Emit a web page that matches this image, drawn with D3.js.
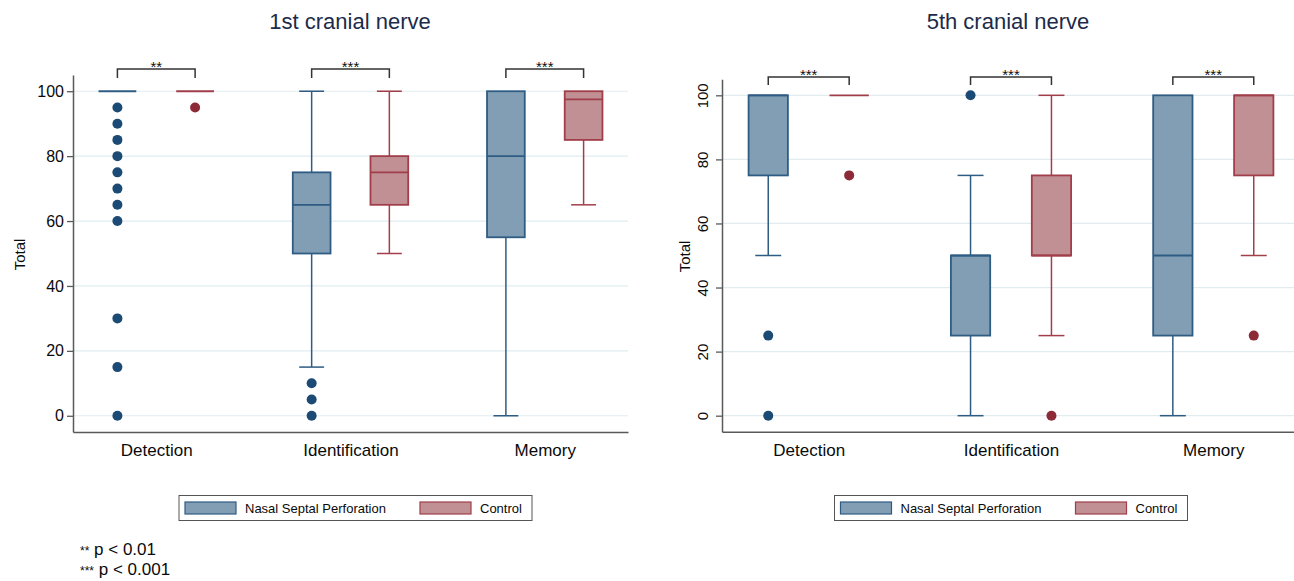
<!DOCTYPE html>
<html>
<head>
<meta charset="utf-8">
<script src="https://cdn.jsdelivr.net/npm/d3@7"></script>
<style>
  html, body { margin: 0; padding: 0; background: #fff; }
  svg { display: block; font-family: "Liberation Sans", Arial, Helvetica, sans-serif; }
</style>
</head>
<body>
<svg id="chart" width="1294" height="581"></svg>
<script>
// ---------------- DATA ----------------
const categories = ["Detection", "Identification", "Memory"];
const groups = ["Nasal Septal Perforation", "Control"];
const yTicks = [0, 20, 40, 60, 80, 100];

// box stats per category: [lower whisker, q1, median, q3, upper whisker]
const nerve1Title = "1st cranial nerve";
const nerve1NspStats = [[100, 100, 100, 100, 100], [15, 50, 65, 75, 100], [0, 55, 80, 100, 100]];
const nerve1NspOutliers = [[95, 90, 85, 80, 75, 70, 65, 60, 30, 15, 0], [10, 5, 0], []];
const nerve1CtlStats = [[100, 100, 100, 100, 100], [50, 65, 75, 80, 100], [65, 85, 97.5, 100, 100]];
const nerve1CtlOutliers = [[95], [], []];
const nerve1Sig = ["**", "***", "***"];

const nerve5Title = "5th cranial nerve";
const nerve5NspStats = [[50, 75, 100, 100, 100], [0, 25, 50, 50, 75], [0, 25, 50, 100, 100]];
const nerve5NspOutliers = [[25, 0], [100], []];
const nerve5CtlStats = [[100, 100, 100, 100, 100], [25, 50, 50, 75, 100], [50, 75, 100, 100, 100]];
const nerve5CtlOutliers = [[75], [0], [25]];
const nerve5Sig = ["***", "***", "***"];

const footnotes = [["**", "p < 0.01"], ["***", "p < 0.001"]];

// ---------------- STYLE ----------------
const fills = ["#819eb4", "#c09095"];
const strokes = ["#2f5c83", "#a13e4a"];
const dotColors = ["#1b4a74", "#8c2b37"];
const gridColor = "#e1ecef";
const axisColor = "#5a5a5a";
const titleColor = "#1c2b4a";

const svg = d3.select("#chart");

function drawPanel(cfg, data) {
  const g = svg.append("g");
  const W = cfg.x1 - cfg.x0;
  const y = d3.scaleLinear().domain([-5, 105]).range([cfg.yBottom, cfg.yTop]);
  const x = d3.scalePoint().domain(categories).range([cfg.x0, cfg.x1]).padding(0.4286);
  const sub = d3.scalePoint().domain(groups).range([-0.07 * W, 0.07 * W]);
  const boxW = 0.068 * W;
  const capW = 0.66 * boxW;

  // gridlines
  g.append("g").selectAll("line").data(yTicks).join("line")
    .attr("x1", cfg.x0).attr("x2", cfg.x1)
    .attr("y1", d => y(d)).attr("y2", d => y(d))
    .attr("stroke", gridColor).attr("stroke-width", 1.2);

  // y axis
  const yAxis = g.append("g").attr("transform", `translate(${cfg.x0},0)`)
    .call(d3.axisLeft(y).tickValues(yTicks).tickSize(6).tickSizeOuter(0));
  yAxis.select(".domain").attr("stroke", axisColor).attr("stroke-width", 1.5);
  yAxis.selectAll(".tick line").attr("stroke", axisColor).attr("stroke-width", 1.3);
  yAxis.selectAll(".tick text").attr("fill", "#0a0a0a").attr("font-size", cfg.yFont + "px");
  if (cfg.rotateTicks) {
    yAxis.selectAll(".tick text")
      .attr("x", null).attr("dy", null)
      .attr("text-anchor", "middle")
      .attr("transform", "translate(-14,0) rotate(-90)");
  }

  // x axis
  const xAxis = g.append("g").attr("transform", `translate(0,${cfg.yBottom})`)
    .call(d3.axisBottom(x).tickSize(0).tickSizeOuter(0).tickPadding(12));
  xAxis.select(".domain").attr("stroke", axisColor).attr("stroke-width", 1.5);
  xAxis.selectAll(".tick text").attr("fill", "#0a0a0a").attr("font-size", "17px");

  // y label
  g.append("text")
    .attr("transform", `translate(${cfg.yLabelX},${(y(-5) + y(105)) / 2 + 1}) rotate(-90)`)
    .attr("text-anchor", "middle").attr("font-size", "15px").attr("fill", "#0a0a0a")
    .text("Total");

  // title
  g.append("text").attr("x", cfg.titleX).attr("y", 29)
    .attr("text-anchor", "middle").attr("font-size", "22px").attr("fill", titleColor)
    .text(cfg.title);

  // boxes
  const series = [
    { stats: data.nspStats, outliers: data.nspOutliers },
    { stats: data.ctlStats, outliers: data.ctlOutliers }
  ];
  series.forEach((s, gi) => {
    const sg = g.append("g");
    categories.forEach((cat, ci) => {
      const [lo, q1, med, q3, hi] = s.stats[ci];
      const cx = x(cat) + sub(groups[gi]);
      // whiskers
      if (lo < q1) {
        sg.append("line").attr("x1", cx).attr("x2", cx).attr("y1", y(q1)).attr("y2", y(lo))
          .attr("stroke", strokes[gi]).attr("stroke-width", 1.5);
        sg.append("line").attr("x1", cx - capW / 2).attr("x2", cx + capW / 2)
          .attr("y1", y(lo)).attr("y2", y(lo))
          .attr("stroke", strokes[gi]).attr("stroke-width", 1.5);
      }
      if (hi > q3) {
        sg.append("line").attr("x1", cx).attr("x2", cx).attr("y1", y(q3)).attr("y2", y(hi))
          .attr("stroke", strokes[gi]).attr("stroke-width", 1.5);
        sg.append("line").attr("x1", cx - capW / 2).attr("x2", cx + capW / 2)
          .attr("y1", y(hi)).attr("y2", y(hi))
          .attr("stroke", strokes[gi]).attr("stroke-width", 1.5);
      }
      // box
      if (q3 > q1) {
        sg.append("rect").attr("x", cx - boxW / 2).attr("width", boxW)
          .attr("y", y(q3)).attr("height", y(q1) - y(q3))
          .attr("fill", fills[gi]).attr("stroke", strokes[gi]).attr("stroke-width", 1.8);
      }
      // median
      sg.append("line").attr("x1", cx - boxW / 2).attr("x2", cx + boxW / 2)
        .attr("y1", y(med)).attr("y2", y(med))
        .attr("stroke", strokes[gi]).attr("stroke-width", 1.8);
      // outliers
      sg.selectAll(null).data(s.outliers[ci]).join("circle")
        .attr("cx", cx).attr("cy", d => y(d)).attr("r", 5)
        .attr("fill", dotColors[gi]);
    });
  });

  // significance brackets
  categories.forEach((cat, ci) => {
    const xa = x(cat) + sub(groups[0]);
    const xb = x(cat) + sub(groups[1]);
    g.append("path")
      .attr("d", `M${xa},${cfg.brBottom}V${cfg.brTop}H${xb}V${cfg.brBottom}`)
      .attr("fill", "none").attr("stroke", "#333").attr("stroke-width", 1.5);
    g.append("text").attr("x", (xa + xb) / 2).attr("y", cfg.brTop + 3)
      .attr("text-anchor", "middle").attr("font-size", "15px").attr("fill", "#111")
      .text(data.sig[ci]);
  });

  // legend
  const lg = g.append("g").attr("transform", `translate(${cfg.legendX},495.5)`);
  lg.append("rect").attr("width", 353).attr("height", 25)
    .attr("fill", "#fff").attr("stroke", "#555").attr("stroke-width", 1);
  const legX = [6, 241];
  groups.forEach((grp, gi) => {
    lg.append("rect").attr("x", legX[gi]).attr("y", 6.5).attr("width", 51).attr("height", 12)
      .attr("fill", fills[gi]).attr("stroke", strokes[gi]).attr("stroke-width", 1.2);
    lg.append("text").attr("x", legX[gi] + 60).attr("y", 17.5)
      .attr("font-size", "13px").attr("fill", "#0a0a0a").text(grp);
  });
}

drawPanel(
  { x0: 73, x1: 628, yTop: 75, yBottom: 432, title: nerve1Title, titleX: 350, yFont: 16,
    rotateTicks: false, yLabelX: 25, brTop: 69, brBottom: 78, legendX: 179 },
  { nspStats: nerve1NspStats, nspOutliers: nerve1NspOutliers,
    ctlStats: nerve1CtlStats, ctlOutliers: nerve1CtlOutliers, sig: nerve1Sig }
);
drawPanel(
  { x0: 722, x1: 1300, yTop: 79.3, yBottom: 431.7, title: nerve5Title, titleX: 1008, yFont: 15,
    rotateTicks: true, yLabelX: 690, brTop: 77, brBottom: 85, legendX: 834.5 },
  { nspStats: nerve5NspStats, nspOutliers: nerve5NspOutliers,
    ctlStats: nerve5CtlStats, ctlOutliers: nerve5CtlOutliers, sig: nerve5Sig }
);

// footnotes
const fn = svg.append("g");
footnotes.forEach((f, i) => {
  const t = fn.append("text").attr("x", 80).attr("y", 555 + i * 20).attr("fill", "#0a0a0a");
  t.append("tspan").attr("font-size", "12px").text(f[0]);
  t.append("tspan").attr("font-size", "17px").text(" " + f[1]);
});
</script>
</body>
</html>
